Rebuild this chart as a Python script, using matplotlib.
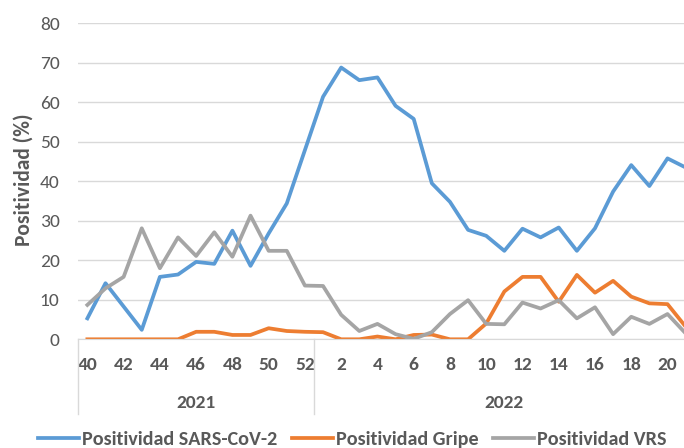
import matplotlib
matplotlib.use('Agg')
import matplotlib.pyplot as plt

plt.rcParams['font.family'] = ['Carlito', 'DejaVu Sans']

weeks_2021 = [40, 41, 42, 43, 44, 45, 46, 47, 48, 49, 50, 51, 52]
weeks_2022 = list(range(1, 22))
week_labels = [str(w) for w in weeks_2021 + weeks_2022]
years = ['2021', '2022']

sars_cov2 = [5.3, 14.2, 8.3, 2.4, 15.8, 16.4, 19.6, 19.1, 27.5, 18.6, 26.8, 34.4, 47.9,
             61.4, 68.8, 65.6, 66.3, 59.1, 55.8, 39.5, 34.8, 27.7, 26.2, 22.4, 28.0,
             25.8, 28.3, 22.4, 28.1, 37.4, 44.1, 38.8, 45.8, 43.5]
gripe = [0, 0, 0, 0, 0, 0, 1.9, 1.9, 1.1, 1.1, 2.8, 2.1, 1.9,
         1.8, 0, 0, 0.7, 0, 1.1, 1.2, 0, 0, 4.0, 12.1, 15.8,
         15.8, 9.5, 16.3, 11.8, 14.8, 10.8, 9.1, 8.9, 3.2]
vrs = [8.7, 12.9, 15.8, 28.1, 18.0, 25.8, 21.1, 27.1, 20.9, 31.3, 22.4, 22.4, 13.6,
       13.5, 6.2, 2.1, 3.9, 1.3, 0.1, 1.8, 6.4, 9.9, 3.9, 3.8, 9.3,
       7.8, 9.9, 5.3, 8.1, 1.3, 5.7, 3.9, 6.4, 1.5]

txt = '#595959'
fig = plt.figure(figsize=(6.84, 4.48), dpi=100)
# plot area runs a bit past the right edge, like the cropped original
ax = fig.add_axes([78.3 / 684, 1 - 339.3 / 448, 616.4 / 684, 316 / 448])

x = list(range(len(week_labels)))
ax.plot(x, sars_cov2, color='#5B9BD5', lw=2.7, label='Positividad SARS-CoV-2')
ax.plot(x, gripe, color='#ED7D31', lw=2.7, label='Positividad Gripe')
ax.plot(x, vrs, color='#A5A5A5', lw=2.7, label='Positividad VRS')

ax.set_xlim(-0.5, len(x) - 0.5)
ax.set_ylim(0, 80)
ax.set_yticks(range(0, 81, 10))
ax.set_xticks(x[::2])
ax.set_xticklabels(week_labels[::2], fontweight='bold')
ax.tick_params(axis='both', length=0, labelsize=14, labelcolor=txt)
ax.tick_params(axis='x', pad=13)
ax.tick_params(axis='y', pad=13.5)
ax.grid(axis='y', color='#d9d9d9', lw=1)
ax.set_axisbelow(True)
for s in ['top', 'right', 'left']:
    ax.spines[s].set_visible(False)
ax.spines['bottom'].set_color('#d9d9d9')

fig.text(23.5 / 684, 1 - 180 / 448, 'Positividad (%)', rotation=90, ha='center', va='center',
         fontsize=15.5, fontweight='bold', color=txt)

# year groups under the week labels
tr = ax.get_xaxis_transform()
n21 = len(weeks_2021)
n22 = len(weeks_2022)
for xd in [-0.5, n21 - 0.5]:
    ax.plot([xd, xd], [0, -0.235], transform=tr, color='#d9d9d9', lw=1, clip_on=False)
ax.text(-0.5 + n21 / 2, -0.2, years[0], transform=tr, ha='center', va='center',
        fontsize=14, color=txt, fontweight='bold')
ax.text(n21 - 0.5 + n22 / 2, -0.2, years[1], transform=tr, ha='center', va='center',
        fontsize=14, color=txt, fontweight='bold')

fig.legend(loc='center', bbox_to_anchor=(0.515, 1 - 439 / 448), ncol=3, frameon=False,
           prop={'size': 14.5, 'weight': 'bold'}, labelcolor=txt, handlelength=2.0,
           handletextpad=0.15, columnspacing=0.75)

fig.savefig('out.png', dpi=100)
plt.close(fig)
